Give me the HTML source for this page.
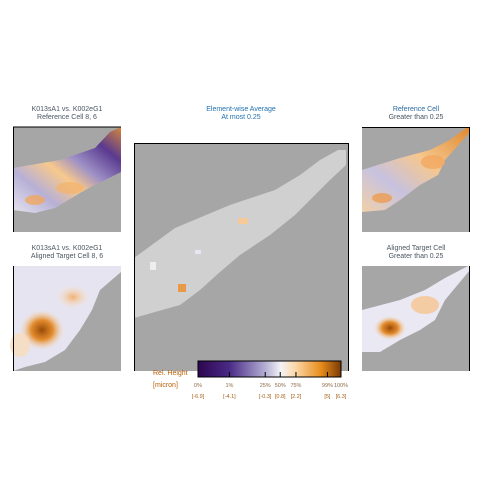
<!DOCTYPE html>
<html><head><meta charset="utf-8"><style>
body{margin:0;width:480px;height:480px;background:#fff;overflow:hidden}
svg{display:block;font-family:"Liberation Sans",sans-serif}
</style></head><body>
<svg width="480" height="480" viewBox="0 0 480 480">
<defs>
<linearGradient id="cbar" x1="0" x2="1" y1="0" y2="0">
<stop offset="0" stop-color="#2d0650"/><stop offset="0.22" stop-color="#4a2a86"/><stop offset="0.48" stop-color="#b8b4d6"/>
<stop offset="0.58" stop-color="#f4f3f6"/><stop offset="0.68" stop-color="#fbd8a8"/><stop offset="0.86" stop-color="#e88d1c"/><stop offset="1" stop-color="#7a3a06"/>
</linearGradient>
<linearGradient id="band1" x1="0" y1="1" x2="1" y2="0">
<stop offset="0" stop-color="#e6e3f0"/><stop offset="0.25" stop-color="#b7b0d6"/><stop offset="0.45" stop-color="#f8c98c"/><stop offset="0.6" stop-color="#9d90c6"/><stop offset="0.8" stop-color="#5a3a90"/><stop offset="1" stop-color="#d5863a"/>
</linearGradient>
<linearGradient id="band2" x1="0" y1="1" x2="1" y2="0">
<stop offset="0" stop-color="#f1d0a8"/><stop offset="0.3" stop-color="#c7c2e0"/><stop offset="0.6" stop-color="#f6c78e"/><stop offset="1" stop-color="#e08a30"/>
</linearGradient>
<radialGradient id="blob"><stop offset="0" stop-color="#9a4a08"/><stop offset="0.5" stop-color="#e38d2e"/><stop offset="1" stop-color="#f9d7ae" stop-opacity="0"/></radialGradient>
<radialGradient id="blobl"><stop offset="0" stop-color="#f3b070"/><stop offset="1" stop-color="#fbe4cc" stop-opacity="0"/></radialGradient>
</defs>

<g>
<text x="67" y="111" font-size="7" fill="#4a5560" text-anchor="middle">K013sA1 vs. K002eG1</text>
<text x="67" y="119" font-size="7" fill="#4a5560" text-anchor="middle">Reference Cell 8, 6</text>
<rect x="13" y="127" width="108" height="105" fill="#a6a6a6"/>
<polygon points="13,168 60,160 95,148 110,132 121,127 121,172 85,190 55,208 35,213 13,210" fill="url(#band1)"/>
<ellipse cx="70" cy="188" rx="14" ry="6" fill="#f3b470" opacity="0.8"/>
<ellipse cx="35" cy="200" rx="10" ry="5" fill="#f0a860" opacity="0.8"/>
<line x1="13" y1="127" x2="121" y2="127" stroke="#000"/><line x1="13.5" y1="127" x2="13.5" y2="232" stroke="#000"/>
</g>

<g>
<text x="67" y="250" font-size="7" fill="#4a5560" text-anchor="middle">K013sA1 vs. K002eG1</text>
<text x="67" y="258" font-size="7" fill="#4a5560" text-anchor="middle">Aligned Target Cell 8, 6</text>
<rect x="13" y="266" width="108" height="105" fill="#a6a6a6"/>
<polygon points="13,266 121,266 121,272 100,290 92,310 80,330 65,350 45,362 25,367 13,371" fill="#e6e4f0"/>
<ellipse cx="73" cy="297" rx="17" ry="12" fill="url(#blobl)"/>
<ellipse cx="42" cy="330" rx="22" ry="20" fill="url(#blob)"/>
<ellipse cx="20" cy="345" rx="10" ry="12" fill="#f9dcbc" opacity="0.8"/>
<line x1="13.5" y1="266" x2="13.5" y2="371" stroke="#000"/>
</g>

<g>
<text x="241" y="111" font-size="7" fill="#1f6fb0" text-anchor="middle">Element-wise Average</text>
<text x="241" y="119" font-size="7" fill="#1f6fb0" text-anchor="middle">At most 0.25</text>
<rect x="134" y="143" width="215" height="228" fill="#a6a6a6"/>
<polygon points="134,258 175,228 230,205 275,190 300,175 320,160 338,150 346,150 346,165 330,180 310,200 295,215 270,235 240,255 220,272 200,290 180,305 155,312 134,318" fill="#d0d0d0"/>
<rect x="178" y="284" width="8" height="8" fill="#e89a48"/>
<rect x="238" y="218" width="10" height="6" fill="#f6c99a"/>
<rect x="150" y="262" width="6" height="8" fill="#eeeeee"/>
<rect x="195" y="250" width="6" height="4" fill="#e7e6f2"/>
<line x1="134" y1="143.5" x2="349" y2="143.5" stroke="#000"/><line x1="134.5" y1="143" x2="134.5" y2="371" stroke="#000"/><line x1="348.5" y1="143" x2="348.5" y2="371" stroke="#000"/>
</g>

<g>
<text x="416" y="111" font-size="7" fill="#2a6aa0" text-anchor="middle">Reference Cell</text>
<text x="416" y="119" font-size="7" fill="#4a5560" text-anchor="middle">Greater than 0.25</text>
<rect x="362" y="127" width="108" height="105" fill="#a6a6a6"/>
<polygon points="362,170 400,158 430,150 450,140 466,128 470,128 470,132 445,160 438,175 420,185 400,200 385,210 362,212" fill="url(#band2)"/>
<ellipse cx="433" cy="162" rx="12" ry="7" fill="#f2a860" opacity="0.8"/>
<ellipse cx="382" cy="198" rx="10" ry="5" fill="#ec9c50" opacity="0.8"/>
<line x1="362" y1="127.5" x2="470" y2="127.5" stroke="#000"/><line x1="469.5" y1="127" x2="469.5" y2="232" stroke="#000"/>
</g>

<g>
<text x="416" y="250" font-size="7" fill="#4a5560" text-anchor="middle">Aligned Target Cell</text>
<text x="416" y="258" font-size="7" fill="#4a5560" text-anchor="middle">Greater than 0.25</text>
<rect x="362" y="266" width="108" height="105" fill="#a6a6a6"/>
<polygon points="362,310 400,300 425,290 445,278 468,266 470,266 470,270 445,300 435,320 420,330 400,340 380,352 362,352" fill="#eae8f2"/>
<ellipse cx="425" cy="305" rx="14" ry="9" fill="#f6c490" opacity="0.8"/>
<ellipse cx="390" cy="328" rx="16" ry="12" fill="url(#blob)"/>
<line x1="469.5" y1="266" x2="469.5" y2="371" stroke="#000"/>
</g>

<g>
<text x="153" y="375" font-size="7" fill="#b8600a">Rel. Height</text>
<text x="153" y="387" font-size="7" fill="#b8600a">[micron]</text>
<rect x="198" y="361" width="143" height="16" fill="url(#cbar)" stroke="#000" stroke-width="1"/>
<g id="ticks"></g>
</g>
</svg>
<script>
const tickPct = ["0%","1%","25%","50%","75%","99%","100%"];
const tickVal = ["[-6.9]","[-4.1]","[-0.3]","[0.8]","[2.2]","[5]","[6.3]"];
const tickPos = [0, 0.22, 0.47, 0.575, 0.685, 0.905, 1];
const g = document.getElementById('ticks');
const ns = 'http://www.w3.org/2000/svg';
tickPct.forEach((p,i)=>{
  const x = 198 + tickPos[i]*143;
  const l = document.createElementNS(ns,'line');
  l.setAttribute('x1',x);l.setAttribute('x2',x);l.setAttribute('y1',372);l.setAttribute('y2',377);
  l.setAttribute('stroke','#000');
  
  
  g.appendChild(l);
  const t = document.createElementNS(ns,'text');
  t.setAttribute('x',x);t.setAttribute('y',387);t.setAttribute('font-size','5.5');
  t.setAttribute('text-anchor','middle');t.setAttribute('fill','#8a6a4a');
  t.textContent = p;
  
  
  g.appendChild(t);
  const v = document.createElementNS(ns,'text');
  v.setAttribute('x',x);v.setAttribute('y',398);v.setAttribute('font-size','5.5');
  v.setAttribute('text-anchor','middle');v.setAttribute('fill','#a8601a');
  v.textContent = tickVal[i];
  
  
  g.appendChild(v);
});
</script>
</body></html>
